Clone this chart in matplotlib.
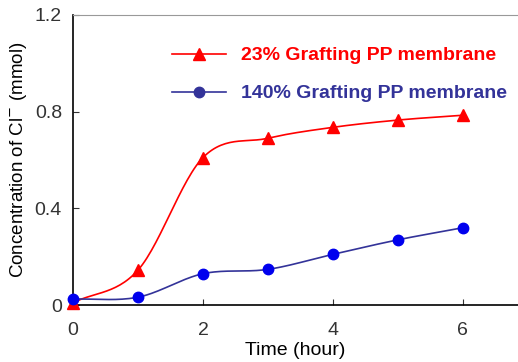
import numpy as np
import matplotlib.pyplot as plt

plt.rcParams['font.family'] = ['Liberation Sans', 'DejaVu Sans']

time_h = [0, 1, 2, 3, 4, 5, 6]
cl_23 = [0.01, 0.145, 0.61, 0.69, 0.735, 0.765, 0.785]
cl_140 = [0.025, 0.033, 0.13, 0.148, 0.21, 0.27, 0.32]
label_23 = "23% Grafting PP membrane"
label_140 = "140% Grafting PP membrane"


def smooth(x, y, n=30):
    # Catmull-Rom style smoothed line through the points (like a spreadsheet "smoothed line")
    x = np.asarray(x, float)
    y = np.asarray(y, float)
    px = np.concatenate([[2 * x[0] - x[1]], x, [2 * x[-1] - x[-2]]])
    py = np.concatenate([[2 * y[0] - y[1]], y, [2 * y[-1] - y[-2]]])
    xs, ys = [], []
    t = np.linspace(0, 1, n)
    for i in range(1, len(px) - 2):
        p0, p1, p2, p3 = py[i - 1], py[i], py[i + 1], py[i + 2]
        ys.append(0.5 * (2 * p1 + (-p0 + p2) * t + (2 * p0 - 5 * p1 + 4 * p2 - p3) * t**2
                         + (-p0 + 3 * p1 - 3 * p2 + p3) * t**3))
        xs.append(px[i] + (px[i + 1] - px[i]) * t)
    return np.concatenate(xs), np.concatenate(ys)


fig = plt.figure(figsize=(5.18, 3.62), dpi=100)
ax = fig.add_axes([0.141, 0.157, 0.859, 0.802])

red = "#ff0000"
navy = "#333399"
blue = "#0000ee"

sx, sy = smooth(time_h, cl_23)
ax.plot(sx, sy, color=red, lw=1.2, zorder=2)
ax.plot(time_h, cl_23, ls="none", marker="^", ms=8, color=red, zorder=3, clip_on=False)

sx, sy = smooth(time_h, cl_140)
ax.plot(sx, sy, color=navy, lw=1.2, zorder=2)
ax.plot(time_h, cl_140, ls="none", marker="o", ms=7.5, color=blue, zorder=3, clip_on=False)

# legend handles drawn as lines with markers
h1, = ax.plot([], [], color=red, lw=1.2, marker="^", ms=8)
h2, = ax.plot([], [], color=navy, lw=1.2, marker="o", ms=7.5, mfc=navy, mec=navy)
leg = ax.legend([h1, h2], [label_23, label_140], loc="upper left",
                bbox_to_anchor=(0.182, 0.95), frameon=False, handlelength=2.8,
                handletextpad=0.75, labelspacing=1.05, prop={"size": 14, "weight": "bold"})
leg.get_texts()[0].set_color(red)
leg.get_texts()[1].set_color(navy)

ax.set_xlim(0, 6.85)
ax.set_ylim(0, 1.2)
ax.set_xticks([0, 2, 4, 6])
ax.set_yticks([0, 0.4, 0.8, 1.2])
ax.set_yticklabels(["0", "0.4", "0.8", "1.2"])
ax.tick_params(direction="in", length=4, labelsize=14, colors="#333333", pad=8)
ax.tick_params(axis="x", pad=12)
for s in ("left", "bottom"):
    ax.spines[s].set_color("black")
    ax.spines[s].set_linewidth(1.2)
ax.spines["top"].set_color("#999999")
ax.spines["right"].set_visible(False)

ax.set_xlabel("Time (hour)", fontsize=14, labelpad=2)
ax.set_ylabel(r"Concentration of Cl$^{-}$ (mmol)", fontsize=13.5, labelpad=4)

fig.savefig("out.png", dpi=100)
